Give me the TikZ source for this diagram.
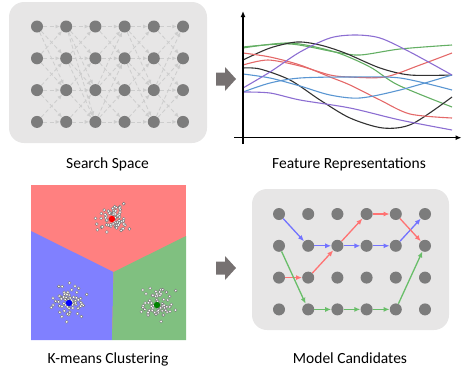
\documentclass[tikz,border=0pt]{standalone}
\usepackage{fontspec}
\setmainfont{Carlito}
\usetikzlibrary{arrows.meta}
\definecolor{panelgray}{RGB}{231,230,230}
\definecolor{unitgray}{RGB}{124,124,124}
\definecolor{edgegray}{RGB}{205,205,205}
\definecolor{arrowgray}{RGB}{118,113,113}
\definecolor{fgreen}{RGB}{100,175,100}
\definecolor{fblack}{RGB}{50,50,50}
\definecolor{fred}{RGB}{228,105,105}
\definecolor{fblue}{RGB}{90,150,210}
\definecolor{fpurple}{RGB}{140,110,210}
\definecolor{kred}{RGB}{255,128,128}
\definecolor{kblue}{RGB}{128,128,255}
\definecolor{kgreen}{RGB}{128,192,128}
\definecolor{mblue}{RGB}{115,115,255}
\definecolor{mred}{RGB}{255,115,115}
\definecolor{mgreen}{RGB}{105,190,105}
\tikzset{
  panel/.style={fill=panelgray, rounded corners=15pt},
  unit/.style={circle, fill=unitgray, inner sep=0pt, minimum size=12pt},
  ssedge/.style={edgegray, dash pattern=on 4pt off 2.5pt, line width=0.8pt, -{Latex[length=4.5pt,width=4pt]}},
  mcedge/.style={line width=1.3pt, -{Latex[length=6pt,width=5pt]}},
  curve/.style={line width=1.1pt},
  axis/.style={line width=1.3pt, -{Latex[length=6pt,width=5pt]}},
  captiontext/.style={anchor=base, inner sep=0pt, font=\fontsize{15.5pt}{18pt}\selectfont},
  dot/.style={fill=white, draw=black!55, line width=0.4pt}
}
\def\blockarrow(#1,#2){\fill[arrowgray, shift={(#1,#2)}] (0,-6.5) -- (9,-6.5) -- (9,-12) -- (20,0) -- (9,12) -- (9,6.5) -- (0,6.5) -- cycle;}

\begin{document}
\begin{tikzpicture}[x=1pt,y=-1pt]
			%%%%% START %%%%%
			\useasboundingbox (0,0) rectangle (462,370);
			
			% search space
			\fill[panel] (9,2) rectangle (207,143);
			\foreach \i in {1,...,6}
				\foreach \j in {1,...,4}
					\node[unit] (s-\i-\j) at ({9+28+29.2*(\i-1)},{2+24.5+31.8*(\j-1)}) {};
			\foreach \i [evaluate=\i as \n using int(\i+1)] in {1,...,5}
				\foreach \j in {1,...,4}
					\foreach \k in {1,...,4}{
						\ifnum\numexpr(\j-\k)*(\j-\k)\relax<2
							\draw[ssedge] (s-\i-\j) -- (s-\n-\k);
						\fi
					}
			\foreach \i/\j/\k in {1/1/3, 2/1/3, 2/1/4, 2/2/4, 3/4/2, 3/3/1, 4/1/3, 4/2/4, 5/4/2, 5/3/1}{
				\pgfmathtruncatemacro\n{\i+1}
				\draw[ssedge] (s-\i-\j) -- (s-\n-\k);
			}
			\node[captiontext] (sslabel) at (107.5,168) {Search Space};
			
			\blockarrow(216,79)
			
			% feature representations
			\draw[curve, fgreen] plot[smooth] coordinates {(243,47) (290,44) (335,52) (360,55) (400,49) (452,45)};
			\draw[curve, fgreen] plot[smooth] coordinates {(243,48) (290,43) (335,52) (370,67) (398,85) (452,107)};
			\draw[curve, fblack] plot[smooth] coordinates {(243,60) (270,48) (297,42) (320,45) (345,53) (380,68) (410,75) (452,75)};
			\draw[curve, fblack] plot[smooth] coordinates {(243,68) (260,69) (290,80) (320,100) (350,118) (383,128) (412,124) (452,97)};
			\draw[curve, fred] plot[smooth] coordinates {(243,53) (270,57) (300,65) (330,77) (350,85) (380,100) (410,114) (452,118)};
			\draw[curve, fred] plot[smooth] coordinates {(243,65) (268,60) (300,66) (330,75) (350,77) (385,77) (420,65) (452,53)};
			\draw[curve, fblue] plot[smooth] coordinates {(243,74) (270,78) (300,86) (330,95) (360,98) (400,90) (452,75)};
			\draw[curve, fblue] plot[smooth] coordinates {(243,92) (270,83) (300,78) (350,77) (400,78) (452,90)};
			\draw[curve, fpurple] plot[smooth] coordinates {(243,88) (270,72) (300,52) (330,38) (355,35) (380,38) (410,52) (452,75)};
			\draw[curve, fpurple] plot[smooth] coordinates {(243,92) (270,93) (300,100) (350,108) (400,120) (452,130)};
			\draw[axis] (243,144) -- (243,11);
			\draw[axis] (234,137.7) -- (461.5,137.7);
			\node[captiontext] (frlabel) at (349,168) {Feature Representations};
			
			% k-means clustering
			\fill[kred] (31,185) rectangle (186,340);
			\coordinate (v) at (113.5,272);
			\fill[kblue] (31,231) -- (v) -- (112,340) -- (31,340) -- cycle;
			\fill[kgreen] (v) -- (186,236) -- (186,340) -- (112,340) -- cycle;
			\pgfmathsetseed{11}
			\foreach \cx/\cy/\s in {112/219/6.5, 69/303/8, 157/305/8}
				\foreach \p in {1,...,70}{
					\pgfmathsetmacro\px{\cx+\s*(rand+rand+rand)}
					\pgfmathsetmacro\py{\cy+\s*(rand+rand+rand)}
					\draw[dot] (\px,\py) circle (1.5);
				}
			\fill[red] (112,219) circle (3.2);
			\fill[blue] (69,303) circle (3.2);
			\fill[black!50!green] (157,305) circle (3.2);
			\node[captiontext] (kmlabel) at (108,363) {K-means Clustering};
			
			\blockarrow(216,268)
			
			% model candidates
			\fill[panel] (252,189) rectangle (449,330);
			\foreach \i in {1,...,6}
				\foreach \j in {1,...,4}
					\node[unit] (m-\i-\j) at ({252+27+29.2*(\i-1)},{189+25+31.8*(\j-1)}) {};
			\foreach \a/\b in {1-1/2-2, 2-2/3-2, 3-2/4-2, 4-2/5-2, 5-2/6-1}
				\draw[mcedge, mblue] (m-\a) -- (m-\b);
			\foreach \a/\b in {1-3/2-3, 2-3/3-2, 3-2/4-1, 4-1/5-1, 5-1/6-2}
				\draw[mcedge, mred] (m-\a) -- (m-\b);
			\foreach \a/\b in {1-2/2-4, 2-4/3-4, 3-4/4-4, 4-4/5-4, 5-4/6-2}
				\draw[mcedge, mgreen] (m-\a) -- (m-\b);
			\node[captiontext] (mclabel) at (350,363) {Model Candidates};
			
			%%%%% END %%%%%
\end{tikzpicture}
\end{document}
